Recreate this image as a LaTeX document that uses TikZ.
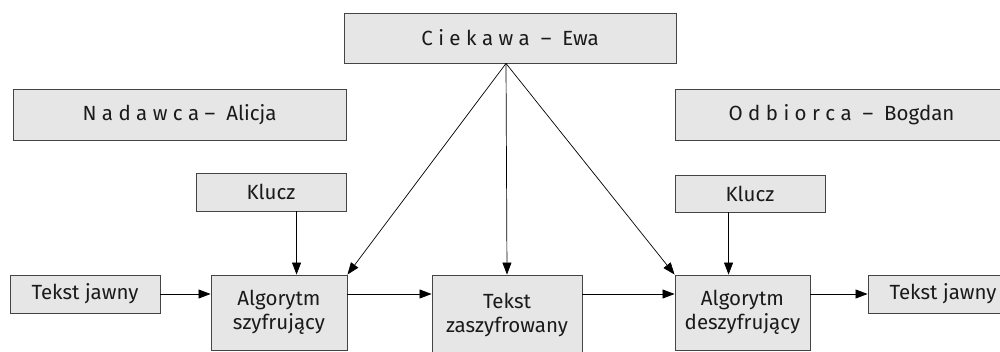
\documentclass[tikz,border=0pt]{standalone}
\usepackage{fontspec}
\setmainfont{Fira Sans}
\usetikzlibrary{arrows.meta,calc}
\definecolor{boxfill}{HTML}{E6E6E6}
\definecolor{boxline}{HTML}{444444}
\definecolor{txt}{HTML}{1A1A1A}
\tikzset{
  box/.style={draw=boxline, line width=0.9pt, fill=boxfill, inner sep=0pt, text=txt,
    font=\fontsize{20.5}{24}\selectfont, align=center},
  arr/.style={line width=0.7pt, -{Triangle[length=12pt,width=9pt]}},
}
\begin{document}
\begin{tikzpicture}[x=1pt,y=-1pt]
\useasboundingbox (0,0) rectangle (1000,352);
\clip (0,0) rectangle (1000,352);
\node[box, minimum width=332pt, minimum height=50pt] (ewa) at (510,38) {C i e k a w a \ – \ Ewa};
\node[box, minimum width=333pt, minimum height=51pt] (nad) at (179.5,114.5) {N a d a w c a – \ Alicja};
\node[box, minimum width=333pt, minimum height=51pt] (odb) at (841.5,114.5) {O d b i o r c a \ – \ Bogdan};
\node[box, minimum width=150pt, minimum height=38pt] (klucz1) at (271,192) {Klucz};
\node[box, minimum width=150pt, minimum height=37pt] (klucz2) at (750,193.5) {Klucz};
\node[box, minimum width=150pt, minimum height=38pt] (tj1) at (85,294) {Tekst jawny};
\node[box, minimum width=136pt, minimum height=75pt] (alg1) at (279,312.5) {Algorytm\\szyfrujący};
\node[box, minimum width=150pt, minimum height=80pt] (tz) at (507,315) {Tekst\\zaszyfrowany};
\node[box, minimum width=135pt, minimum height=75pt] (alg2) at (742.5,312.5) {Algorytm\\deszyfrujący};
\node[box, minimum width=150pt, minimum height=38pt] (tj2) at (943,294) {Tekst jawny};
\coordinate (src) at ([xshift=-4pt]ewa.south);
\draw[arr] (tj1.east) -- (tj1.east -| alg1.west);
\draw[arr] (alg1.east |- tj1.east) -- (tz.west |- tj1.east);
\draw[arr] (tz.east |- tj1.east) -- (alg2.west |- tj1.east);
\draw[arr] (alg2.east |- tj2.west) -- (tj2.west);
\draw[arr] ([xshift=101pt]klucz1.south west) -- ([xshift=86pt]alg1.north west);
\draw[arr] ([xshift=54pt]klucz2.south west) -- ([xshift=54pt]alg2.north west);
\draw[arr] (src) -- (alg1.north east);
\draw[arr] (src) -- (tz.north);
\draw[arr] (src) -- (alg2.north west);
\end{tikzpicture}
\end{document}
